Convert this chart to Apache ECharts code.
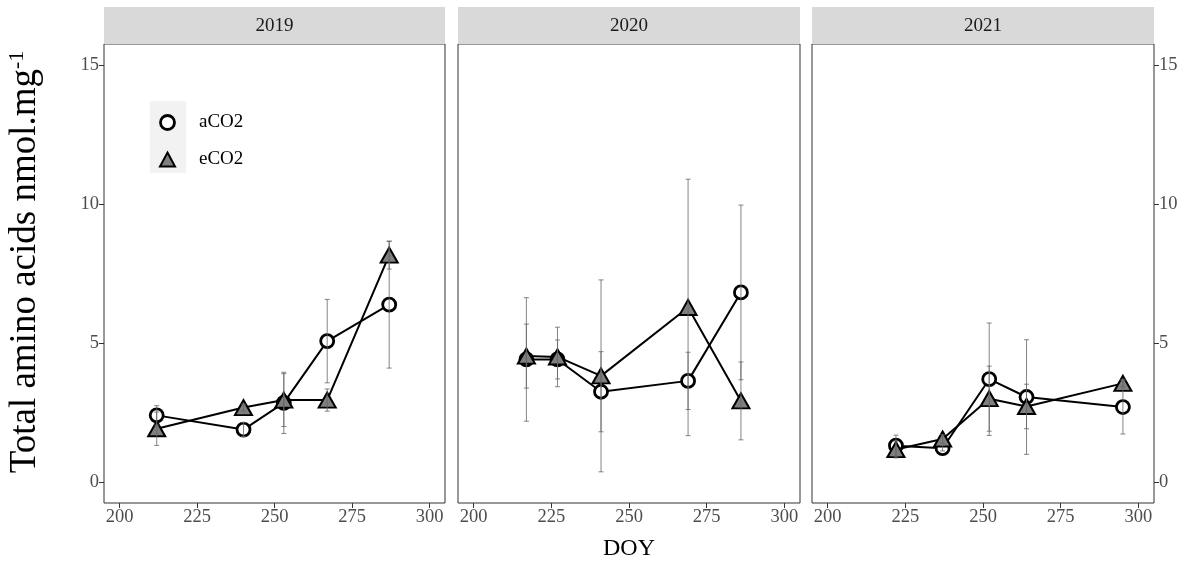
<!DOCTYPE html>
<html><head><meta charset="utf-8">
<script src="https://cdn.jsdelivr.net/npm/echarts@6/dist/echarts.min.js"></script>
<style>html,body{margin:0;padding:0;background:#fff}#c{width:1193px;height:562px}</style>
</head><body><div id="c"></div>
<script>
// ---- data ----
const years = ['2019', '2020', '2021'];
const doy2019 = [212, 240, 253, 267, 287];
const aco2_2019 = [2.40, 1.89, 2.85, 5.07, 6.38];
const aco2Se_2019 = [0.35, 0.25, 1.10, 1.50, 2.28];
const eco2_2019 = [1.92, 2.68, 2.95, 2.95, 8.16];
const eco2Se_2019 = [0.60, 0.12, 0.95, 0.40, 0.50];

const doy2020 = [217, 227, 241, 269, 286];
const aco2_2020 = [4.41, 4.41, 3.25, 3.64, 6.82];
const aco2Se_2020 = [2.22, 0.70, 1.44, 1.03, 3.14];
const eco2_2020 = [4.53, 4.50, 3.82, 6.28, 2.92];
const eco2Se_2020 = [1.15, 1.07, 3.45, 4.61, 1.40];

const doy2021 = [222, 237, 252, 264, 295];
const aco2_2021 = [1.31, 1.22, 3.70, 3.06, 2.70];
const aco2Se_2021 = [0.38, 0.10, 2.02, 2.06, 0.97];
const eco2_2021 = [1.17, 1.55, 3.00, 2.72, 3.55];
const eco2Se_2021 = [0.30, 0.15, 1.17, 0.80, 0.12];

const xTicks = [200, 225, 250, 275, 300];
const yTicks = [0, 5, 10, 15];
const seriesNames = ['aCO2', 'eCO2'];
const yTitle = 'Total amino acids nmol.mg';
const yTitleSup = '-1';
const xTitle = 'DOY';

// ---- layout / styling ----
const FONT = 'Liberation Serif';
const GRID_TOP = 44, GRID_H = 459, STRIP_TOP = 7;
const panels = [
  {left: 104, width: 341, doy: doy2019, a: aco2_2019, aSe: aco2Se_2019, e: eco2_2019, eSe: eco2Se_2019},
  {left: 458, width: 342, doy: doy2020, a: aco2_2020, aSe: aco2Se_2020, e: eco2_2020, eSe: eco2Se_2020},
  {left: 812, width: 342, doy: doy2021, a: aco2_2021, aSe: aco2Se_2021, e: eco2_2021, eSe: eco2Se_2021}
];

function errItem(params, api) {
  const x = api.value(0), lo = api.value(1), hi = api.value(2);
  const pLo = api.coord([x, lo]), pHi = api.coord([x, hi]);
  const w = 2.5;
  const style = {stroke: '#666666', lineWidth: 0.8};
  return {type: 'group', children: [
    {type: 'line', shape: {x1: pLo[0], y1: pLo[1], x2: pHi[0], y2: pHi[1]}, style},
    {type: 'line', shape: {x1: pLo[0] - w, y1: pLo[1], x2: pLo[0] + w, y2: pLo[1]}, style},
    {type: 'line', shape: {x1: pHi[0] - w, y1: pHi[1], x2: pHi[0] + w, y2: pHi[1]}, style}
  ]};
}

const aStyle = {color: '#ffffff', borderColor: '#000', borderWidth: 2.8};
const eStyle = {color: '#7f7f7f', borderColor: '#000', borderWidth: 2};

const grid = [], xAxis = [], yAxis = [], series = [], graphic = [];
panels.forEach((p, i) => {
  grid.push({left: p.left, top: GRID_TOP, width: p.width, height: GRID_H, outerBoundsMode: 'none',
    show: true, borderColor: '#333', borderWidth: 1, backgroundColor: 'transparent'});
  xAxis.push({
    type: 'value', gridIndex: i, min: 195, max: 305,
    axisLine: {show: false, onZero: false}, splitLine: {show: false},
    axisTick: {show: true, customValues: xTicks, length: 5, lineStyle: {color: '#333'}},
    axisLabel: {customValues: xTicks, color: '#4d4d4d', fontSize: 18.5, fontFamily: FONT, margin: 5},
    name: i === 1 ? xTitle : '', nameLocation: 'middle', nameGap: 34,
    nameTextStyle: {fontSize: 24, fontFamily: FONT, color: '#000'}
  });
  const showY = i !== 1;
  yAxis.push({
    type: 'value', gridIndex: i, min: -0.75, max: 15.75,
    position: i === 2 ? 'right' : 'left',
    axisLine: {show: false, onZero: false}, splitLine: {show: false},
    axisTick: {show: showY, customValues: yTicks, length: 5, lineStyle: {color: '#333'}},
    axisLabel: {show: showY, customValues: yTicks, color: '#4d4d4d', fontSize: 18.5, fontFamily: FONT, margin: 5}
  });
  const aData = p.doy.map((d, k) => [d, p.a[k]]);
  const eData = p.doy.map((d, k) => [d, p.e[k]]);
  const aErr = p.doy.map((d, k) => [d, p.a[k] - p.aSe[k], p.a[k] + p.aSe[k]]);
  const eErr = p.doy.map((d, k) => [d, p.e[k] - p.eSe[k], p.e[k] + p.eSe[k]]);
  series.push({
    name: seriesNames[0], type: 'line', xAxisIndex: i, yAxisIndex: i, data: aData,
    symbol: 'circle', symbolSize: 13, lineStyle: {color: '#000', width: 2},
    itemStyle: aStyle, z: 3
  });
  series.push({
    name: seriesNames[1], type: 'line', xAxisIndex: i, yAxisIndex: i, data: eData,
    symbol: 'triangle', symbolSize: [17, 15], lineStyle: {color: '#000', width: 2},
    itemStyle: eStyle, z: 4
  });
  series.push({name: 'aCO2 err', type: 'custom', xAxisIndex: i, yAxisIndex: i,
    data: aErr, renderItem: errItem, encode: {x: 0, y: [1, 2]}, z: 5, silent: true});
  series.push({name: 'eCO2 err', type: 'custom', xAxisIndex: i, yAxisIndex: i,
    data: eErr, renderItem: errItem, encode: {x: 0, y: [1, 2]}, z: 5, silent: true});
  // facet strip
  graphic.push({type: 'rect', shape: {x: p.left, y: STRIP_TOP, width: p.width, height: GRID_TOP - STRIP_TOP},
    style: {fill: '#d9d9d9'}, z: 1});
  graphic.push({type: 'text', x: p.left + p.width / 2, y: (STRIP_TOP + GRID_TOP) / 2 + 1,
    style: {text: years[i], fontSize: 19, fontFamily: FONT, fill: '#1a1a1a', align: 'center', verticalAlign: 'middle'}, z: 2});
});
// legend key background
graphic.push({type: 'rect', shape: {x: 150, y: 101, width: 36, height: 72}, style: {fill: '#f2f2f2'}, z: 1});
// y-axis title with superscript
graphic.push({type: 'text', x: 25, y: 262, rotation: Math.PI / 2, z: 2,
  style: {text: '{t|' + yTitle + '}{s|' + yTitleSup + '}', align: 'center', verticalAlign: 'middle',
    rich: {
      t: {fontSize: 37, fontFamily: FONT, fill: '#000'},
      s: {fontSize: 22, fontFamily: FONT, fill: '#000', verticalAlign: 'top', padding: [0, 0, 14, 0]}
    }}});

const chart = echarts.init(document.getElementById('c'), null, {renderer: 'canvas'});
chart.setOption({
  animation: false,
  backgroundColor: '#fff',
  grid, xAxis, yAxis, series, graphic,
  legend: {
    orient: 'vertical', left: 154, top: 108, itemWidth: 15, itemHeight: 14, itemGap: 18, z: 10,
    textStyle: {fontSize: 19, fontFamily: FONT, color: '#000', padding: [0, 0, 0, 19]},
    data: [
      {name: seriesNames[0], icon: 'circle', itemStyle: aStyle},
      {name: seriesNames[1], icon: 'triangle', itemStyle: eStyle}
    ]
  }
});
</script></body></html>
